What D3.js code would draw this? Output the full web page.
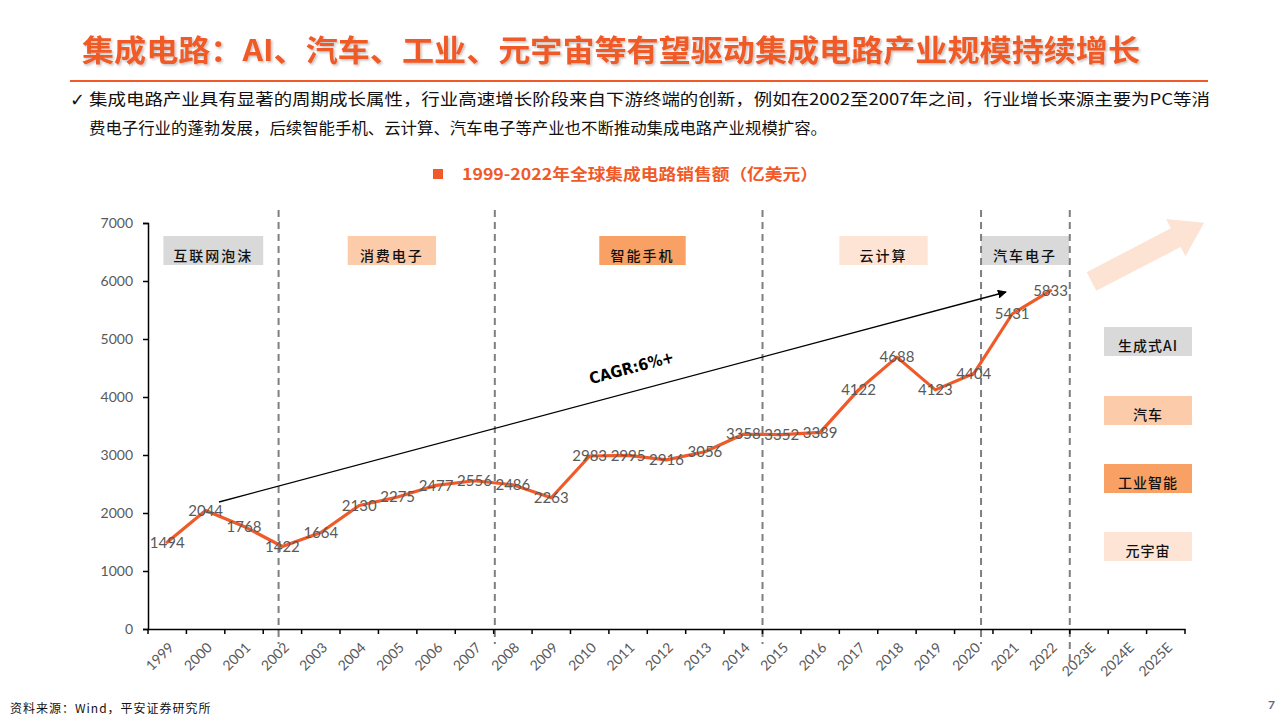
<!DOCTYPE html>
<html><head><meta charset="utf-8">
<script src="https://cdn.jsdelivr.net/npm/d3@7"></script>
<style>
html,body{margin:0;padding:0;background:#fff;}
svg{display:block;}
</style></head>
<body>
<svg id="chart" width="1280" height="720"></svg>
<script>
// ---------- data ----------
const categories = ["1999","2000","2001","2002","2003","2004","2005","2006","2007","2008","2009","2010","2011","2012","2013","2014","2015","2016","2017","2018","2019","2020","2021","2022","2023E","2024E","2025E"];
const salesYears = ["1999","2000","2001","2002","2003","2004","2005","2006","2007","2008","2009","2010","2011","2012","2013","2014","2015","2016","2017","2018","2019","2020","2021","2022"];
const salesValues = [1494,2044,1768,1422,1664,2130,2275,2477,2556,2486,2263,2983,2995,2916,3056,3358,3352,3389,4122,4688,4123,4404,5431,5833];
const yTicks = [0,1000,2000,3000,4000,5000,6000,7000];
// period dividers, in category-index units
const dividers = [3.4, 9.03, 16.0, 21.69, 24.0];
const periodLabels = ["互联网泡沫","消费电子","智能手机","云计算","汽车电子"];
const periodSpans = [[0.4,3.0],[5.2,7.5],[11.75,14.0],[18.0,20.3],[21.69,23.98]];
const periodColors = ["#D9D9D9","#FCCBA9","#F9A064","#FDE4D4","#D9D9D9"];
const futureLabels = ["生成式AI","汽车","工业智能","元宇宙"];
const futureColors = ["#D9D9D9","#FCCBA9","#F9A064","#FDE4D4"];
const titleText = "集成电路：AI、汽车、工业、元宇宙等有望驱动集成电路产业规模持续增长";
const bullet1 = "集成电路产业具有显著的周期成长属性，行业高速增长阶段来自下游终端的创新，例如在2002至2007年之间，行业增长来源主要为PC等消";
const bullet2 = "费电子行业的蓬勃发展，后续智能手机、云计算、汽车电子等产业也不断推动集成电路产业规模扩容。";
const legendText = "1999-2022年全球集成电路销售额（亿美元）";
const cagrText = "CAGR:6%+";
const sourceText = "资料来源：Wind，平安证券研究所";

// ---------- setup ----------
const svg = d3.select("#chart");
const ORANGE = "#F05A28";
const CJK = "'Noto Sans CJK SC','Noto Sans',sans-serif";
const NUM = "Lato,'Noto Sans',sans-serif";

const plotLeft = 148, plotRight = 1185, plotTop = 223, plotBottom = 629;
const x = d3.scaleBand().domain(categories).range([plotLeft, plotRight]).paddingInner(0).paddingOuter(0);
const xi = d3.scaleLinear().domain([0, categories.length]).range([plotLeft, plotRight]);
const y = d3.scaleLinear().domain([0, 7000]).range([plotBottom, plotTop]);
const cx = d => x(d) + x.bandwidth() / 2;

// defs
const defs = svg.append("defs");
defs.append("filter").attr("id","shadow").attr("x","-5%").attr("y","-20%").attr("width","110%").attr("height","150%")
  .append("feDropShadow").attr("dx",1.5).attr("dy",1.5).attr("stdDeviation",1).attr("flood-color","#000").attr("flood-opacity",0.25);
defs.append("marker").attr("id","arrowhead").attr("viewBox","0 0 10 10").attr("refX",9).attr("refY",5)
  .attr("markerWidth",9).attr("markerHeight",9).attr("markerUnits","userSpaceOnUse").attr("orient","auto")
  .append("path").attr("d","M0,0 L10,5 L0,10 z").attr("fill","#000");

// ---------- header ----------
svg.append("text").attr("x", 82).attr("y", 61).attr("font-family", CJK).attr("font-weight", 700)
  .attr("font-size", 30).attr("fill", ORANGE).attr("filter","url(#shadow)")
  .attr("textLength", 1058).attr("lengthAdjust","spacingAndGlyphs").text(titleText);
svg.append("line").attr("x1", 70).attr("x2", 1208).attr("y1", 81).attr("y2", 81).attr("stroke", ORANGE).attr("stroke-width", 2);

svg.append("text").attr("x", 70).attr("y", 106).attr("font-family", "'DejaVu Sans',sans-serif").attr("font-weight",700)
  .attr("font-size", 18).attr("fill","#111").text("✓");
svg.append("text").attr("x", 89).attr("y", 105).attr("font-family", CJK).attr("font-size", 16).attr("fill","#111")
  .attr("textLength", 1121).attr("lengthAdjust","spacingAndGlyphs").text(bullet1);
svg.append("text").attr("x", 89).attr("y", 134).attr("font-family", CJK).attr("font-size", 16).attr("fill","#111")
  .attr("textLength", 738).attr("lengthAdjust","spacingAndGlyphs").text(bullet2);

// legend
svg.append("rect").attr("x", 433).attr("y", 169).attr("width", 10).attr("height", 10).attr("fill", ORANGE);
svg.append("text").attr("x", 462).attr("y", 180).attr("font-family", CJK).attr("font-weight", 700).attr("font-size", 16)
  .attr("fill", ORANGE).attr("textLength", 356).attr("lengthAdjust","spacingAndGlyphs").text(legendText);

// ---------- period boxes ----------
const pg = svg.append("g");
periodLabels.forEach((lab, i) => {
  const x0 = xi(periodSpans[i][0]), x1 = xi(periodSpans[i][1]);
  pg.append("rect").attr("x", x0).attr("y", 236).attr("width", x1 - x0).attr("height", 29).attr("fill", periodColors[i]);
  pg.append("text").attr("x", (x0 + x1) / 2).attr("y", 261).attr("text-anchor","middle")
    .attr("font-family", CJK).attr("font-weight", 500).attr("font-size", 14).attr("fill","#111")
    .attr("letter-spacing", 2).text(lab);
});

// dividers
svg.append("g").selectAll("line").data(dividers).join("line")
  .attr("x1", d => xi(d)).attr("x2", d => xi(d))
  .attr("y1", 210).attr("y2", (d, i) => i === dividers.length - 1 ? 662 : 644)
  .attr("stroke", "#7F7F7F").attr("stroke-width", 2).attr("stroke-dasharray", "7,5");

// ---------- axes ----------
const yAxis = svg.append("g").attr("transform", `translate(${plotLeft},0)`)
  .call(d3.axisLeft(y).tickValues(yTicks).tickSize(5).tickPadding(10).tickFormat(d3.format("d")));
yAxis.select(".domain").attr("stroke","#000").attr("stroke-width",1.5);
yAxis.selectAll(".tick line").attr("stroke","#000").attr("stroke-width",1.5);
yAxis.selectAll(".tick text").attr("font-family", NUM).attr("font-size", 14).attr("fill","#595959");

const xAxis = svg.append("g").attr("transform", `translate(0,${plotBottom})`)
  .call(d3.axisBottom(x).tickSize(0).tickFormat(""));
xAxis.select(".domain").attr("stroke","#000").attr("stroke-width",1.5);
xAxis.selectAll(".tick").remove();
// boundary ticks
svg.append("g").selectAll("line").data(d3.range(categories.length + 1)).join("line")
  .attr("x1", d => xi(d)).attr("x2", d => xi(d)).attr("y1", plotBottom).attr("y2", plotBottom + 5)
  .attr("stroke","#000").attr("stroke-width",1.5);
svg.append("g").selectAll("text").data(categories).join("text")
  .attr("transform", d => `translate(${cx(d) + 4},${plotBottom + 16}) rotate(-45)`)
  .attr("text-anchor","end").attr("dy","0.35em")
  .attr("font-family", NUM).attr("font-size", 14).attr("fill","#595959").text(d => d);

// ---------- CAGR arrow ----------
svg.append("line").attr("x1", 219).attr("y1", 502).attr("x2", 1006).attr("y2", 292)
  .attr("stroke","#000").attr("stroke-width",1.3).attr("marker-end","url(#arrowhead)");
svg.append("text").attr("transform","translate(633,373) rotate(-15)").attr("text-anchor","middle")
  .attr("font-family","'DejaVu Sans Condensed','Liberation Sans Narrow',sans-serif").attr("font-weight",700)
  .attr("font-size", 16).attr("fill","#000").text(cagrText);

// ---------- series ----------
const pts = salesYears.map((yr, i) => ({ yr, v: salesValues[i] }));
svg.append("path").datum(pts)
  .attr("d", d3.line().x(d => cx(d.yr)).y(d => y(d.v)))
  .attr("fill","none").attr("stroke", ORANGE).attr("stroke-width", 3.2)
  .attr("stroke-linejoin","round").attr("stroke-linecap","round");
svg.append("g").selectAll("text").data(pts).join("text")
  .attr("x", d => cx(d.yr)).attr("y", d => y(d.v)).attr("dy","0.35em").attr("text-anchor","middle")
  .attr("font-family", NUM).attr("font-size", 15).attr("fill","#595959").text(d => d.v);

// ---------- right side ----------
const arrowPts = [[0,-10.5],[95,-10.5],[95,-21],[127,0],[95,21],[95,10.5],[0,10.5]];
svg.append("polygon").attr("points", arrowPts.map(p => p.join(",")).join(" "))
  .attr("transform","translate(1091.5,281.5) rotate(-27.5)").attr("fill","#FDE3D3");

const fg = svg.append("g");
const boxY = [327, 396, 464, 532];
futureLabels.forEach((lab, i) => {
  fg.append("rect").attr("x", 1104).attr("y", boxY[i]).attr("width", 88).attr("height", 29).attr("fill", futureColors[i]);
  fg.append("text").attr("x", 1148).attr("y", boxY[i] + 24).attr("text-anchor","middle")
    .attr("font-family", CJK).attr("font-weight", 500).attr("font-size", 14).attr("fill","#111")
    .attr("letter-spacing", 1).text(lab);
});

// ---------- footer ----------
svg.append("text").attr("x", 10).attr("y", 713).attr("font-family", CJK).attr("font-size", 12).attr("fill","#111")
  .attr("letter-spacing", 1).text(sourceText);
svg.append("text").attr("x", 1268).attr("y", 709).attr("font-family", NUM).attr("font-weight",700).attr("font-size", 12)
  .attr("fill","#5E6A7A").text("7");
</script>
</body></html>
